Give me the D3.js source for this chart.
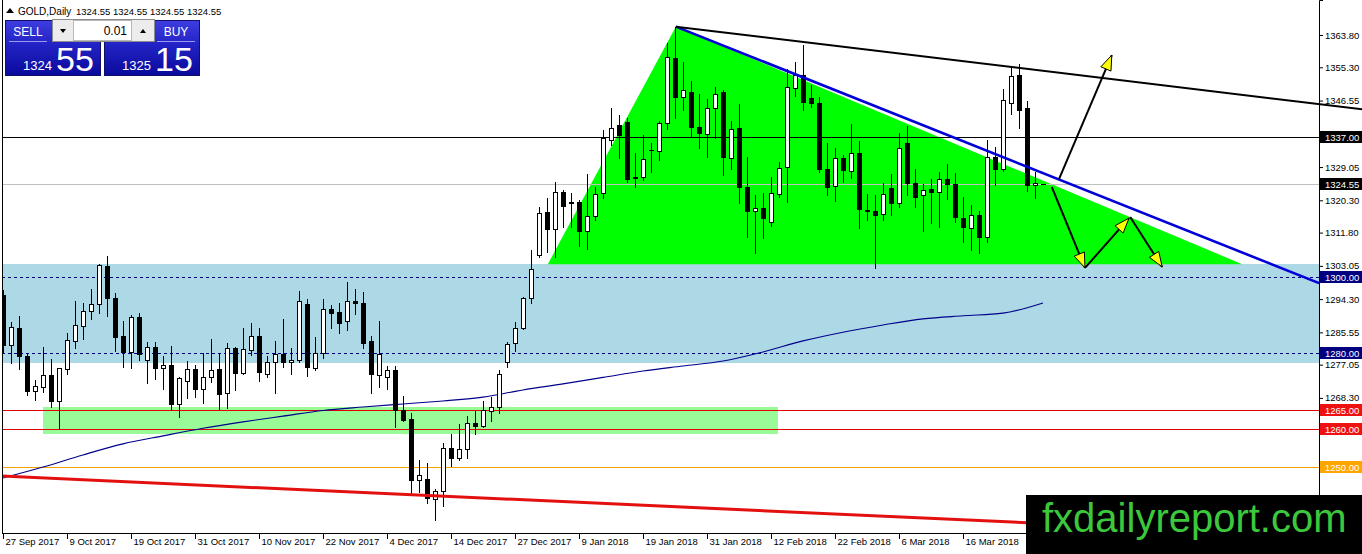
<!DOCTYPE html>
<html>
<head>
<meta charset="utf-8">
<title>GOLD Daily</title>
<script src="https://cdn.jsdelivr.net/npm/d3@7/dist/d3.min.js"></script>
<style>
  html, body { margin:0; padding:0; background:#ffffff; overflow:hidden; }
  svg { display:block; }
  text { font-family: "Liberation Sans", Arial, sans-serif; }
</style>
</head>
<body>
<svg id="chart" width="1362" height="554"></svg>
<script>
// ---------------- DATA ----------------
const symbolTitle = "GOLD,Daily";
const headerOHLC = "1324.55 1324.55 1324.55 1324.55";
const lotSize = "0.01";
const bidBig = ["1324", "55"];
const askBig = ["1325", "15"];

const opens = [1295.4,1282.2,1286.6,1279.3,1270.2,1271.3,1274.3,1267.6,1275.8,1283.4,
1287.2,1291.3,1292.9,1303.0,1294.5,1284.6,1280.5,1289.5,1278.3,1281.6,
1276.1,1276.9,1266.7,1272.8,1275.8,1270.6,1273.9,1275.9,1269.5,1281.4,
1274.8,1280.9,1284.6,1274.5,1277.7,1279.9,1277.7,1278.3,1293.0,1276.3,
1280.1,1291.6,1290.9,1288.5,1293.9,1293.4,1283.4,1274.3,1273.9,1275.7,
1265.1,1262.7,1246.7,1246.9,1241.6,1243.9,1255.0,1252.4,1254.8,1261.6,
1261.0,1264.9,1266.0,1277.7,1282.7,1286.8,1294.5,1305.8,1317.2,1312.7,
1322.4,1319.9,1319.8,1312.1,1316.3,1322.1,1336.2,1340.1,1340.9,1326.5,
1326.4,1333.5,1333.3,1340.7,1357.7,1347.4,1348.9,1339.7,1337.7,1344.5,
1348.7,1331.4,1339.3,1323.7,1317.6,1318.2,1314.5,1322.0,1329.0,1349.8,
1353.3,1347.1,1346.0,1328.5,1324.0,1331.4,1328.1,1332.7,1317.7,1317.6,
1316.6,1323.5,1319.5,1335.3,1324.9,1321.7,1323.3,1322.4,1325.8,1324.5,
1315.6,1312.9,1316.4,1310.6,1331.8,1328.5,1346.0,1353.3,1344.7,1324.2,
1324.55];
const highs = [1296.7,1288.4,1289.9,1279.9,1273.0,1281.6,1278.5,1276.3,1285.3,1293.8,
1293.2,1296.9,1303.5,1305.6,1296.0,1288.5,1290.1,1290.6,1283.1,1283.1,
1279.3,1282.0,1273.9,1278.1,1277.0,1280.2,1283.7,1280.1,1282.7,1281.6,
1286.6,1288.1,1286.6,1279.3,1283.4,1289.0,1281.4,1296.4,1294.3,1284.3,
1294.3,1292.8,1293.4,1298.7,1296.9,1296.1,1284.6,1288.6,1276.7,1276.7,
1268.8,1264.3,1252.0,1251.1,1244.3,1256.5,1258.8,1261.4,1263.5,1264.9,
1267.6,1268.5,1275.7,1283.1,1288.4,1294.9,1307.2,1318.6,1320.8,1325.2,
1323.0,1322.1,1320.4,1327.2,1323.9,1338.8,1344.6,1342.8,1342.0,1332.7,
1337.5,1335.3,1341.2,1361.8,1366.0,1356.8,1351.8,1348.3,1347.0,1350.2,
1349.3,1341.3,1345.6,1331.8,1321.7,1322.3,1326.5,1330.5,1354.8,1356.8,
1361.2,1350.6,1347.6,1335.5,1334.0,1332.2,1340.4,1336.0,1322.0,1321.7,
1324.8,1327.2,1337.9,1339.9,1328.5,1324.5,1325.9,1327.8,1329.9,1327.6,
1321.1,1319.1,1317.6,1336.2,1334.4,1349.5,1355.5,1356.2,1346.5,1327.8,
1324.55];
const lows = [1280.4,1277.4,1275.8,1269.1,1267.8,1269.9,1266.0,1260.0,1274.6,1281.4,
1283.7,1289.1,1290.6,1289.9,1280.7,1276.5,1276.1,1278.3,1272.1,1273.2,
1270.6,1265.1,1263.4,1268.2,1268.6,1267.0,1272.6,1265.3,1265.6,1270.4,
1274.5,1279.6,1272.8,1273.9,1269.5,1276.4,1274.6,1277.8,1274.1,1275.7,
1278.7,1286.6,1285.3,1286.2,1290.4,1281.5,1269.7,1271.1,1270.6,1260.6,
1262.1,1243.3,1243.6,1240.6,1236.2,1239.9,1250.4,1252.0,1252.4,1258.8,
1260.7,1262.3,1264.3,1276.5,1280.7,1286.4,1293.4,1305.5,1306.8,1305.3,
1313.2,1313.2,1308.3,1307.4,1315.1,1320.8,1334.9,1331.4,1325.1,1323.9,
1325.6,1327.8,1330.9,1339.0,1341.9,1344.1,1337.0,1334.0,1331.8,1336.6,
1327.0,1328.5,1319.7,1310.7,1306.4,1310.3,1313.5,1321.1,1319.9,1347.8,
1344.1,1344.9,1327.8,1321.7,1320.1,1325.2,1326.1,1312.9,1315.1,1302.4,
1315.1,1316.4,1318.6,1321.7,1318.5,1312.3,1314.4,1313.4,1320.6,1314.7,
1309.2,1307.2,1306.5,1309.2,1324.3,1328.0,1342.9,1339.3,1322.8,1320.8,
1324.55];
const closes = [1282.2,1286.9,1279.4,1270.2,1271.4,1274.3,1267.6,1276.1,1283.5,1287.5,
1291.2,1293.0,1303.3,1294.5,1284.4,1280.5,1289.5,1279.8,1281.6,1276.1,
1276.9,1266.6,1273.5,1275.8,1270.6,1273.9,1275.7,1269.3,1281.4,1274.8,
1281.1,1284.6,1275.2,1277.7,1279.8,1277.7,1278.3,1293.8,1276.4,1280.1,
1291.6,1290.6,1287.9,1293.9,1293.2,1282.8,1274.5,1279.8,1275.7,1265.1,
1262.5,1246.7,1248.0,1241.9,1243.9,1255.0,1252.4,1254.8,1261.6,1261.0,
1265.1,1266.0,1274.5,1282.5,1286.6,1294.5,1302.2,1316.9,1312.7,1322.4,
1318.8,1319.7,1312.1,1316.3,1321.9,1336.7,1339.3,1337.5,1325.8,1326.2,
1331.1,1333.6,1340.7,1357.9,1347.6,1349.2,1339.7,1337.9,1344.5,1348.2,
1331.8,1339.0,1323.7,1317.6,1318.4,1315.6,1322.1,1328.7,1350.0,1353.3,
1346.3,1345.8,1328.5,1323.9,1331.4,1328.3,1332.7,1317.9,1317.6,1316.4,
1322.0,1319.5,1334.0,1324.9,1321.3,1323.0,1322.4,1325.8,1324.5,1315.8,
1313.2,1316.4,1310.6,1331.8,1328.5,1346.7,1353.0,1344.1,1324.2,1324.8,
1324.55];

// moving average, read at sample bars
const maIdx = [-0.4,5,10,15,20,25,30,35,40,45,50,55,60,65,70,75,80,85,90,95,100,105,110,115,120,125,130];
const maVal = [1247.0,1250.1,1253.3,1256.2,1258.3,1260.3,1262.0,1263.5,1265.0,1265.9,1266.7,1267.5,1268.5,1270.4,1272.0,1273.7,1275.4,1276.7,1278.0,1280.4,1283.3,1285.6,1287.5,1289.1,1289.9,1290.6,1293.3];

// x-axis ticks (bar index -> label)
const dateTickIdx = [0,8,16,24,32,40,48,56,64,72,80,88,96,104,112,120];
const dateTickLabels = ["27 Sep 2017","9 Oct 2017","19 Oct 2017","31 Oct 2017","10 Nov 2017","22 Nov 2017","4 Dec 2017","14 Dec 2017","27 Dec 2017","9 Jan 2018","19 Jan 2018","31 Jan 2018","12 Feb 2018","22 Feb 2018","6 Mar 2018","16 Mar 2018"];

// price-axis ticks that are visible (others are hidden under the level boxes / watermark)
const priceTicks = [1363.80,1355.30,1346.55,1329.05,1320.30,1311.80,1303.05,1294.30,1285.55,1277.05,1268.30];

// horizontal levels
const levelPrices = [1337.00, 1324.55, 1300.00, 1280.00, 1265.00, 1260.00, 1250.00];
const levelNames  = ["resistance","bid","zoneHigh","zoneLow","support1","support2","support3"];

// zones
const blueZone = [1277.5, 1303.5];              // price low, high
const greenZoneBars = [5.0, 96.9];              // bar from, to
const greenZonePrices = [1258.7, 1265.9];       // price low, high
const triangleBars   = [68.1, 84.1, 154.9];
const trianglePrices = [1303.5, 1366.0, 1303.5];

// trend lines [barStart, priceStart, barEnd, priceEnd]
const blueTrend  = [84.1, 1366.0, 164.5, 1298.5];
const blackTrend = [84.1, 1366.0, 169.9, 1344.25];
const redTrend   = [-0.4, 1247.75, 164.5, 1231.96];

// arrows: start / end in bar & price
const arrowBars0   = [132.0, 131.1, 135.25, 140.9];
const arrowPrices0 = [1325.9, 1323.8, 1302.5, 1315.9];
const arrowBars1   = [138.6, 135.25, 140.75, 144.9];
const arrowPrices1 = [1358.5, 1302.5, 1315.6, 1302.75];

// ---------------- LAYOUT ----------------
const W = 1362, H = 554;
const plotL = 2, plotR = 1319, plotB = 533;

const x = d3.scaleLinear().domain([0, 164.5]).range([3, plotR]);
const y = d3.scaleLinear().domain([1232.75, 1373.01]).range([plotB, 0]);
const px = v => Math.round(x(v)) + 0.5;
const py = v => Math.round(y(v)) + 0.5;

const svg = d3.select('#chart');
const defs = svg.append('defs');
defs.append('clipPath').attr('id','plotClip')
  .append('rect').attr('x', plotL).attr('y', 0).attr('width', plotR - plotL).attr('height', plotB);

svg.append('rect').attr('width', W).attr('height', H).attr('fill', '#ffffff');

const plot = svg.append('g').attr('clip-path', 'url(#plotClip)');

// zones
plot.append('rect')
  .attr('x', plotL).attr('width', plotR - plotL)
  .attr('y', Math.round(y(blueZone[1]))).attr('height', Math.round(y(blueZone[0])) - Math.round(y(blueZone[1])))
  .attr('fill', '#add8e6');

plot.append('rect')
  .attr('x', Math.round(x(greenZoneBars[0]))).attr('width', Math.round(x(greenZoneBars[1])) - Math.round(x(greenZoneBars[0])))
  .attr('y', Math.round(y(greenZonePrices[1]))).attr('height', Math.round(y(greenZonePrices[0])) - Math.round(y(greenZonePrices[1])))
  .attr('fill', '#98fb98');

plot.append('polygon')
  .attr('points', triangleBars.map((b, i) => [x(b), y(trianglePrices[i])].join(',')).join(' '))
  .attr('fill', '#00ff00');

// horizontal levels
const levelStyle = {
  resistance: {stroke:'#000000', dash:null},
  bid:        {stroke:'#c0c0c0', dash:null},
  zoneHigh:   {stroke:'#000080', dash:'3,3'},
  zoneLow:    {stroke:'#000080', dash:'3,3'},
  support1:   {stroke:'#e00000', dash:null},
  support2:   {stroke:'#e00000', dash:null},
  support3:   {stroke:'#f5a000', dash:null}
};
levelPrices.forEach((p, i) => {
  const st = levelStyle[levelNames[i]];
  plot.append('line')
    .attr('x1', plotL).attr('x2', plotR)
    .attr('y1', py(p)).attr('y2', py(p))
    .attr('stroke', st.stroke).attr('stroke-width', 1)
    .attr('stroke-dasharray', st.dash);
});

// moving average
plot.append('path')
  .datum(maIdx.map((b, i) => [b, maVal[i]]))
  .attr('d', d3.line().x(d => x(d[0])).y(d => y(d[1])).curve(d3.curveMonotoneX))
  .attr('fill', 'none').attr('stroke', '#00008b').attr('stroke-width', 1.1);

// candles
const bars = d3.range(opens.length).map(i => ({i, o:opens[i], h:highs[i], l:lows[i], c:closes[i]}));
const bodyH = d => Math.round(y(Math.min(d.o,d.c))) - Math.round(y(Math.max(d.o,d.c)));
const cg = plot.append('g');
cg.selectAll('line.wick').data(bars).join('line')
  .attr('class','wick')
  .attr('x1', d => px(d.i)).attr('x2', d => px(d.i))
  .attr('y1', d => Math.round(y(d.h))).attr('y2', d => Math.round(y(d.l)) + 1)
  .attr('stroke', '#000').attr('stroke-width', 1);
cg.selectAll('rect.body').data(bars.filter(d => bodyH(d) >= 1)).join('rect')
  .attr('class','body')
  .attr('x', d => px(d.i) - 2).attr('width', 4)
  .attr('y', d => Math.round(y(Math.max(d.o,d.c))) + 0.5)
  .attr('height', bodyH)
  .attr('fill', d => d.c >= d.o ? '#ffffff' : '#000000')
  .attr('stroke', '#000').attr('stroke-width', 1);
cg.selectAll('line.doji').data(bars.filter(d => bodyH(d) < 1)).join('line')
  .attr('class','doji')
  .attr('x1', d => px(d.i) - 2.5).attr('x2', d => px(d.i) + 2.5)
  .attr('y1', d => py(d.c)).attr('y2', d => py(d.c))
  .attr('stroke', '#000').attr('stroke-width', 1);

// trend lines
plot.append('line')
  .attr('x1', x(redTrend[0])).attr('y1', y(redTrend[1]))
  .attr('x2', x(redTrend[2])).attr('y2', y(redTrend[3]))
  .attr('stroke', '#e41010').attr('stroke-width', 3);
plot.append('line')
  .attr('x1', x(blueTrend[0])).attr('y1', y(blueTrend[1]))
  .attr('x2', x(blueTrend[2])).attr('y2', y(blueTrend[3]))
  .attr('stroke', '#0000d8').attr('stroke-width', 2.6);

// arrows
const ag = plot.append('g');
arrowBars0.forEach((b0, i) => {
  const x0 = x(b0), y0 = y(arrowPrices0[i]), x1 = x(arrowBars1[i]), y1 = y(arrowPrices1[i]);
  ag.append('line').attr('x1', x0).attr('y1', y0).attr('x2', x1).attr('y2', y1)
    .attr('stroke', '#000').attr('stroke-width', 2);
  const ang = Math.atan2(y1 - y0, x1 - x0), len = 15, hw = 5.5;
  const bx = x1 - len * Math.cos(ang), by = y1 - len * Math.sin(ang);
  const nx = -Math.sin(ang) * hw, ny = Math.cos(ang) * hw;
  ag.append('polygon')
    .attr('points', [[x1, y1], [bx + nx, by + ny], [bx - nx, by - ny]].map(p => p.join(',')).join(' '))
    .attr('fill', '#ffff00').attr('stroke', '#000').attr('stroke-width', 1).attr('stroke-linejoin','round');
});

// black trend line (extends over the price scale)
svg.append('line')
  .attr('x1', x(blackTrend[0])).attr('y1', y(blackTrend[1]))
  .attr('x2', x(blackTrend[2])).attr('y2', y(blackTrend[3]))
  .attr('stroke', '#000').attr('stroke-width', 2);

// frame
svg.append('line').attr('x1', plotL + 0.5).attr('x2', plotL + 0.5).attr('y1', 0).attr('y2', plotB).attr('stroke', '#000');

// ---------------- AXES ----------------
const fontSize = 9.5;
const yAxis = d3.axisRight(y).tickValues(priceTicks).tickFormat(d3.format('.2f')).tickSize(4).tickPadding(2);
const yAxisG = svg.append('g').attr('transform', `translate(${plotR},0)`).call(yAxis);
yAxisG.attr('font-family', null).attr('font-size', null);
yAxisG.selectAll('text').attr('font-size', fontSize).attr('fill', '#000').attr('font-family', '"Liberation Sans", Arial, sans-serif');
yAxisG.selectAll('path.domain').attr('stroke', '#000');
yAxisG.selectAll('.tick line').attr('stroke', '#000');

const xAxis = d3.axisBottom(x).tickValues(dateTickIdx).tickFormat((d, i) => dateTickLabels[i]).tickSize(6).tickSizeOuter(0);
const xAxisG = svg.append('g').attr('transform', `translate(0,${plotB})`).call(xAxis);
xAxisG.attr('font-family', null).attr('font-size', null);
xAxisG.select('path.domain').attr('d', `M${plotL},0.5H${plotR}`).attr('stroke', '#000');
xAxisG.selectAll('.tick line').attr('stroke', '#000');
xAxisG.selectAll('.tick text')
  .attr('text-anchor', 'start').attr('x', 2).attr('y', 5).attr('dy', '0.71em')
  .attr('font-size', fontSize).attr('fill', '#000').attr('font-family', '"Liberation Sans", Arial, sans-serif');

// price label boxes
const boxFill = {resistance:'#000000', bid:'#000000', zoneHigh:'#000080', zoneLow:'#000080', support1:'#ee1111', support2:'#ee1111', support3:'#ffa500'};
levelPrices.forEach((p, i) => {
  const cy = Math.round(y(p));
  svg.append('rect').attr('x', plotR + 1).attr('y', cy - 6).attr('width', W - plotR - 1).attr('height', 12)
    .attr('fill', boxFill[levelNames[i]]);
  svg.append('text').attr('x', plotR + 6).attr('y', cy + 3.5)
    .attr('font-size', fontSize).attr('fill', '#fff').text(d3.format('.2f')(p));
});

// ---------------- HEADER & TRADE PANEL ----------------
svg.append('polygon').attr('points', '6,13 10,8 14,13').attr('fill', '#000');
svg.append('text').attr('x', 18).attr('y', 15).attr('font-size', 10).attr('fill', '#000').text(symbolTitle);
svg.append('text').attr('x', 76).attr('y', 15).attr('font-size', 9.5).attr('fill', '#000').text(headerOHLC);

const grad = defs.append('linearGradient').attr('id', 'btnGrad').attr('x1', 0).attr('y1', 0).attr('x2', 0).attr('y2', 1);
grad.append('stop').attr('offset', '0%').attr('stop-color', '#3d3de0');
grad.append('stop').attr('offset', '45%').attr('stop-color', '#2222c4');
grad.append('stop').attr('offset', '100%').attr('stop-color', '#0a0a9c');

const panel = svg.append('g');
[[5, bidBig, 'SELL', 28], [104, askBig, 'BUY', 176]].forEach(([px0, big, lbl, lx]) => {
  panel.append('rect').attr('x', px0 + 0.5).attr('y', 20.5).attr('width', 95).attr('height', 55)
    .attr('fill', 'url(#btnGrad)').attr('stroke', '#10106a');
  panel.append('text').attr('x', lx).attr('y', 36).attr('text-anchor', 'middle')
    .attr('font-size', 12).attr('fill', '#fff').text(lbl);
  panel.append('line').attr('x1', lx - 19).attr('x2', lx + 19).attr('y1', 41.5).attr('y2', 41.5)
    .attr('stroke', '#9a9af0').attr('stroke-width', 1);
  panel.append('text').attr('x', px0 + 18).attr('y', 70).attr('font-size', 13).attr('fill', '#fff').text(big[0]);
  panel.append('text').attr('x', px0 + 51).attr('y', 71).attr('font-size', 34).attr('fill', '#fff').text(big[1]);
});
// lot spinner
panel.append('rect').attr('x', 52.5).attr('y', 19.5).attr('width', 102).attr('height', 22).attr('fill', '#ececec').attr('stroke', '#8c8c8c');
panel.append('rect').attr('x', 73.5).attr('y', 20.5).attr('width', 58).attr('height', 20).attr('fill', '#ffffff').attr('stroke', '#b8b8b8');
panel.append('polygon').attr('points', '60,29 66,29 63,33').attr('fill', '#000');
panel.append('polygon').attr('points', '140,33 146,33 143,29').attr('fill', '#000');
panel.append('text').attr('x', 127).attr('y', 35).attr('text-anchor', 'end').attr('font-size', 12).attr('fill', '#000').text(lotSize);

// ---------------- WATERMARK ----------------
svg.append('rect').attr('x', 1026).attr('y', 495).attr('width', W - 1026).attr('height', H - 495).attr('fill', '#000');
svg.append('text').attr('x', 1042).attr('y', 532).attr('font-size', 40).attr('fill', '#3cc83c').text('fxdailyreport.com');
</script>
</body>
</html>
